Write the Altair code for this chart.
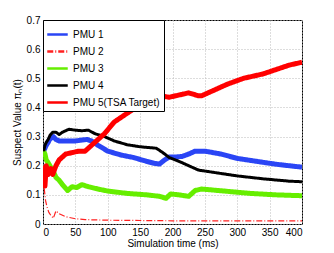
import altair as alt
import pandas as pd

# ---- data ----
t1 = [1, 3, 5, 8, 10, 13, 16, 20, 25, 30, 40, 50, 60, 68, 75, 85, 100, 120, 140, 160, 172, 180, 188, 195, 205, 215, 225, 235, 250, 275, 300, 330, 360, 400]
v1 = [0.25, 0.26, 0.27, 0.28, 0.29, 0.295, 0.30, 0.29, 0.285, 0.285, 0.285, 0.285, 0.288, 0.29, 0.285, 0.27, 0.25, 0.237, 0.228, 0.215, 0.208, 0.206, 0.22, 0.23, 0.23, 0.232, 0.24, 0.25, 0.25, 0.24, 0.225, 0.215, 0.205, 0.195]

t2 = [1, 2, 4, 6, 9, 12, 16, 20, 25, 35, 50, 65, 100, 150, 200, 300, 400]
v2 = [0.16, 0.12, 0.08, 0.06, 0.04, 0.03, 0.02, 0.045, 0.035, 0.025, 0.018, 0.015, 0.013, 0.012, 0.011, 0.011, 0.011]

t3 = [1, 3, 5, 8, 12, 16, 20, 25, 30, 38, 45, 52, 60, 70, 85, 100, 130, 160, 180, 190, 197, 210, 225, 235, 245, 270, 320, 360, 400]
v3 = [0.25, 0.24, 0.22, 0.21, 0.195, 0.18, 0.16, 0.15, 0.135, 0.115, 0.128, 0.125, 0.135, 0.128, 0.12, 0.113, 0.105, 0.1, 0.095, 0.088, 0.103, 0.1, 0.095, 0.115, 0.12, 0.115, 0.105, 0.1, 0.097]

t4 = [1, 3, 5, 8, 11, 15, 20, 25, 30, 40, 50, 60, 70, 80, 95, 110, 130, 150, 175, 185, 195, 210, 225, 240, 270, 300, 340, 380, 400]
v4 = [0.25, 0.27, 0.28, 0.29, 0.305, 0.315, 0.315, 0.307, 0.315, 0.325, 0.322, 0.32, 0.322, 0.31, 0.3, 0.285, 0.272, 0.265, 0.26, 0.245, 0.228, 0.215, 0.2, 0.185, 0.175, 0.165, 0.155, 0.147, 0.145]

t5 = [1, 2, 3, 5, 8, 12, 15, 20, 25, 35, 45, 55, 65, 80, 95, 110, 130, 150, 170, 180, 195, 215, 225, 240, 245, 265, 285, 310, 340, 360, 380, 400]
v5 = [0.2, 0.17, 0.13, 0.2, 0.17, 0.19, 0.17, 0.2, 0.22, 0.24, 0.245, 0.25, 0.25, 0.28, 0.31, 0.35, 0.38, 0.41, 0.43, 0.44, 0.435, 0.445, 0.45, 0.44, 0.44, 0.46, 0.48, 0.5, 0.515, 0.53, 0.545, 0.555]

names = ["PMU 1", "PMU 2", "PMU 3", "PMU 4", "PMU 5(TSA Target)"]
colors = ["#2a45f5", "#ff2020", "#66ee00", "#000000", "#ff0000"]
widths = [5, 1.2, 5, 3, 5]
dashes = [[1, 0], [6, 2, 1, 2], [1, 0], [1, 0], [1, 0]]
series_t = [t1, t2, t3, t4, t5]
series_v = [v1, v2, v3, v4, v5]

font = "Liberation Sans"

x = alt.X("t:Q", title="Simulation time (ms)",
          scale=alt.Scale(domain=[0, 400], nice=False),
          axis=alt.Axis(values=list(range(0, 401, 50)), grid=True, ticks=False,
                        labelPadding=3, titlePadding=1))
y = alt.Y("v:Q", title="Suspect Value πₙ(t)",
          scale=alt.Scale(domain=[0, 0.7], nice=False),
          axis=alt.Axis(values=[i / 10 for i in range(8)], format=".1~f", grid=True,
                        ticks=False, labelPadding=3, titlePadding=4))

color = alt.Color("series:N", scale=alt.Scale(domain=names, range=colors),
                  legend=alt.Legend(title=None, orient="top-left", offset=0,
                                    symbolType="stroke", symbolSize=420,
                                    symbolStrokeWidth=2.5,
                                    labelFontSize=10, labelFont=font,
                                    rowPadding=-8, padding=3,
                                    strokeColor="#000000", fillColor="#ffffff",
                                    labelLimit=200))
dash = alt.StrokeDash("series:N", scale=alt.Scale(domain=names, range=dashes))

layers = []
for name, ts, vs, w in zip(names, series_t, series_v, widths):
    d = pd.DataFrame({"series": name, "t": ts, "v": vs})
    layers.append(
        alt.Chart(d).mark_line(clip=True, strokeJoin="round", strokeWidth=w).encode(
            x=x, y=y, color=color, strokeDash=dash, order=alt.Order("t:Q")
        )
    )

chart = alt.layer(*layers).properties(
    width=259, height=204,
    autosize=alt.AutoSizeParams(type="none"),
    padding={"left": 35, "top": 12, "right": 24, "bottom": 25},
).configure_view(
    stroke="#000000", strokeWidth=1
).configure_axis(
    labelFont=font, titleFont=font, labelFontSize=10, titleFontSize=10,
    titleFontWeight="normal", labelColor="#000000", titleColor="#000000",
    domain=False, gridColor="#bbbbbb", gridDash=[1, 2], gridWidth=1,
)

chart.save("out.html", embed_options={"renderer": "svg", "actions": False})
